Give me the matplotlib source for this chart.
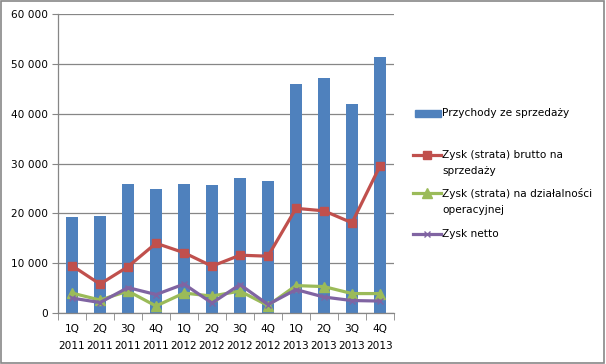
import numpy as np
import matplotlib.pyplot as plt
from matplotlib.patches import Rectangle
from matplotlib.lines import Line2D

# data (thousands shown as full values)
quarters = ["1Q\n2011", "2Q\n2011", "3Q\n2011", "4Q\n2011",
            "1Q\n2012", "2Q\n2012", "3Q\n2012", "4Q\n2012",
            "1Q\n2013", "2Q\n2013", "3Q\n2013", "4Q\n2013"]
przychody = [19300, 19500, 25900, 24900, 25900, 25700, 27100, 26500, 46000, 47200, 41900, 51400]
brutto = [9500, 5800, 9300, 14000, 12100, 9400, 11600, 11400, 21000, 20500, 18100, 29500]
operacyjny = [4000, 2600, 4400, 1400, 4000, 3400, 4400, 1500, 5500, 5300, 3900, 3900]
netto = [3000, 2100, 5100, 3700, 5800, 2000, 5700, 1700, 4700, 3200, 2500, 2400]

labels = ["Przychody ze sprzedaży",
          "Zysk (strata) brutto na\nsprzedaży",
          "Zysk (strata) na działalności\noperacyjnej",
          "Zysk netto"]

plt.rcParams["font.family"] = ["DejaVu Sans"]
plt.rcParams["font.size"] = 7.6

W, H = 606, 364
fig = plt.figure(figsize=(W / 100, H / 100), dpi=100)
fig.patches.append(Rectangle((0.002, 0.003), 0.995, 0.994, transform=fig.transFigure,
                             fill=False, edgecolor="#888888", linewidth=1.2))
ax = fig.add_axes([58 / W, 51 / H, 336 / W, 299 / H])

x = np.arange(len(quarters))
ax.bar(x, przychody, width=0.43, color="#4F81BD", zorder=2)
ax.plot(x, brutto, color="#C0504D", lw=2.3, marker="s", ms=6, zorder=3, clip_on=False)
ax.plot(x, operacyjny, color="#9BBB59", lw=2.3, marker="^", ms=6.5, zorder=3, clip_on=False)
ax.plot(x, netto, color="#8064A2", lw=2.3, marker="x", ms=5, mew=1, zorder=4, clip_on=False)

ax.set_xlim(-0.5, len(quarters) - 0.5)
ax.set_ylim(0, 60000)
ax.set_yticks(range(0, 60001, 10000))
ax.set_yticklabels(["0" if v == 0 else f"{v // 1000} 000" for v in range(0, 60001, 10000)])
ax.yaxis.grid(True, color="#868686", linewidth=0.9, zorder=0)
ax.set_axisbelow(True)

ax.set_xticks(x)
ax.set_xticklabels(quarters, linespacing=1.8)
ax.set_xticks(np.arange(-0.5, len(quarters)), minor=True)
ax.tick_params(axis="x", which="major", length=0, pad=8)
ax.tick_params(axis="x", which="minor", length=5, color="#868686", direction="out")
ax.tick_params(axis="y", length=4, color="#868686", pad=3)

for s in ["top", "right"]:
    ax.spines[s].set_visible(False)
for s in ["left", "bottom"]:
    ax.spines[s].set_color("#868686")
    ax.spines[s].set_linewidth(0.9)

# legend drawn by hand, Excel style (handle level with first line of text)
def fx(px):
    return px / W

def fy(py):
    return 1 - py / H

leg_y = [113, 155, 193, 234]
fig.patches.append(Rectangle((fx(415), fy(117)), 26 / W, 7 / H, transform=fig.transFigure,
                             color="#4F81BD"))
styles = [("#C0504D", "s", 6, 1), ("#9BBB59", "^", 6.5, 1), ("#8064A2", "x", 5, 1)]
for (c, m, ms, mew), yy in zip(styles, leg_y[1:]):
    fig.lines.append(Line2D([fx(413), fx(441)], [fy(yy), fy(yy)], transform=fig.transFigure,
                            color=c, lw=2.3))
    fig.lines.append(Line2D([fx(427)], [fy(yy)], transform=fig.transFigure, color=c,
                            marker=m, ms=ms, mew=mew, lw=0))
for lab, yy in zip(labels, leg_y):
    fig.text(fx(442), fy(yy - 5), lab, va="top", ha="left", linespacing=1.75, fontsize=7.6)

fig.savefig("out.png", dpi=100)
